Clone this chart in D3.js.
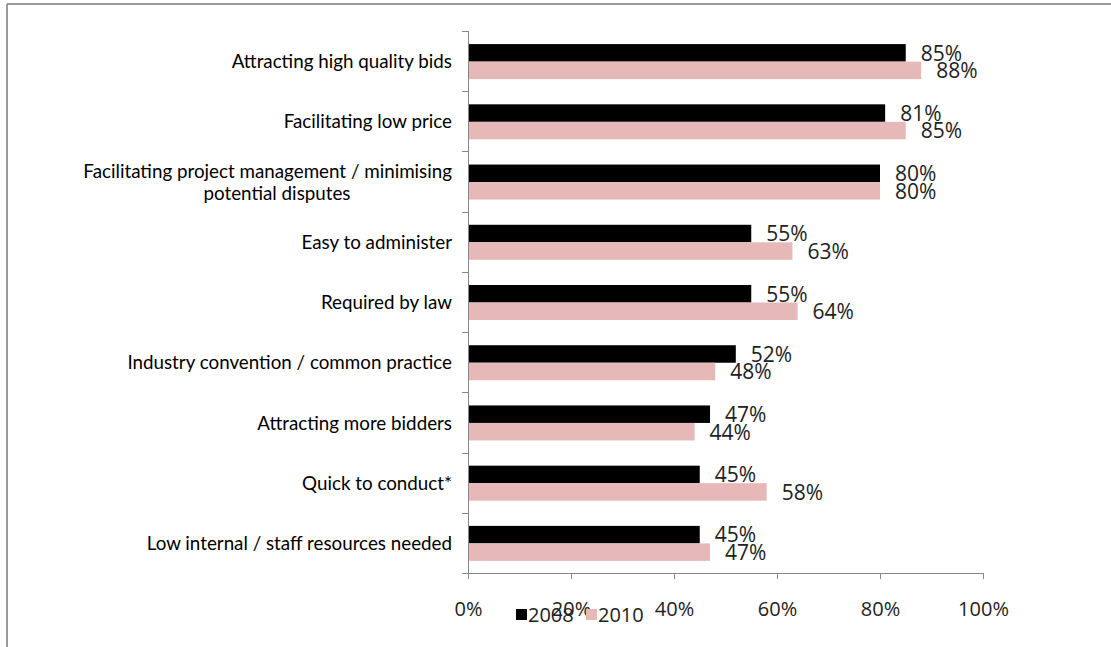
<!DOCTYPE html>
<html>
<head>
<meta charset="utf-8">
<script src="https://cdn.jsdelivr.net/npm/d3@7"></script>
<style>
  body { margin: 0; background: #fff; }
  svg { display: block; }
</style>
</head>
<body>
<div id="chart"></div>
<script>
// chart data
var categories = [
    "Attracting high quality bids",
    "Facilitating low price",
    "Facilitating project management / minimising|potential disputes",
    "Easy to administer",
    "Required by law",
    "Industry convention / common practice",
    "Attracting more bidders",
    "Quick to conduct*",
    "Low internal / staff resources needed"
]
var values2008 = [85, 81, 80, 55, 55, 52, 47, 45, 45]
var values2010 = [88, 85, 80, 63, 64, 48, 44, 58, 47]
var seriesNames = ["2008", "2010"]
var xTicks = [0, 20, 40, 60, 80, 100]

var width = 1111, height = 647
var colors = ["#000000", "#e6b9b8"]

var svg = d3.select('#chart')
            .append('svg')
            .attr('width', width)
            .attr('height', height)

// frame (only top and left edges show)
svg.append('line')
   .attr('x1', 7).attr('y1', 4).attr('x2', width).attr('y2', 4)
   .attr('stroke', '#9a9a9a').attr('stroke-width', 2)
svg.append('line')
   .attr('x1', 7).attr('y1', 4).attr('x2', 7).attr('y2', height)
   .attr('stroke', '#9a9a9a').attr('stroke-width', 2)

var plot = { left: 468, right: 983, top: 31, bottom: 573 }

var xScale = d3.scaleLinear()
               .domain([0, 100])
               .range([plot.left, plot.right])

var yScale = d3.scaleBand()
               .domain(d3.range(categories.length))
               .range([plot.top, plot.bottom])

var barH = 17.5
var bandCenter = i => yScale(i) + yScale.bandwidth() / 2 + 0.5

// bars
var series = [values2008, values2010]
series.forEach((vals, s) => {
    svg.append('g')
       .selectAll('rect')
       .data(vals)
       .enter()
       .append('rect')
       .attr('x', xScale(0))
       .attr('y', (d, i) => bandCenter(i) - barH + s * barH)
       .attr('width', d => xScale(d) - xScale(0))
       .attr('height', barH)
       .attr('fill', colors[s])

    // value labels
    svg.append('g')
       .selectAll('text')
       .data(vals)
       .enter()
       .append('text')
       .attr('x', d => xScale(d) + 15)
       .attr('y', (d, i) => bandCenter(i) - barH / 2 + s * barH + 0.5)
       .attr('dy', '0.35em')
       .attr('font-family', '"Open Sans", sans-serif')
       .attr('font-size', 21)
       .attr('fill', '#222')
       .text(d => d + '%')
})

// x axis
var bottomAxis = d3.axisBottom(xScale)
                   .tickValues(xTicks)
                   .tickSize(6)
                   .tickFormat(d => d + '%')
var gx = svg.append('g')
            .attr('transform', `translate(0, ${plot.bottom})`)
            .call(bottomAxis)
gx.select('.domain').attr('stroke', '#888').attr('d', `M${plot.left - 6},0.5H${plot.right}`)
gx.selectAll('.tick line').attr('stroke', '#888')
gx.selectAll('.tick text')
  .attr('y', 29)
  .attr('font-family', '"Open Sans", sans-serif')
  .attr('font-size', 20)
  .attr('fill', '#222')

// y axis: line with ticks at band boundaries
var gy = svg.append('g')
gy.append('line')
  .attr('x1', plot.left + 0.5).attr('x2', plot.left + 0.5)
  .attr('y1', plot.top).attr('y2', plot.bottom)
  .attr('stroke', '#888')
gy.selectAll('.ytick')
  .data(d3.range(categories.length + 1))
  .enter()
  .append('line')
  .attr('x1', plot.left - 6).attr('x2', plot.left)
  .attr('y1', i => Math.round(plot.top + i * yScale.step()) + 0.5)
  .attr('y2', i => Math.round(plot.top + i * yScale.step()) + 0.5)
  .attr('stroke', '#888')

// category labels
categories.forEach((c, i) => {
    var lines = c.split('|')
    var t = svg.append('text')
               .attr('text-anchor', 'end')
               .attr('font-family', 'Lato, sans-serif')
               .attr('font-size', 18.8)
               .attr('fill', '#000')
    var y0 = bandCenter(i) - (lines.length - 1) * 11
    lines.forEach((ln, k) => {
        t.append('tspan')
         .attr('x', 452)
         .attr('y', y0 + k * 22)
         .attr('dy', '0.35em')
         .text(ln)
    })
    if (lines.length > 1) {
        // second line sits centred under the first
        t.selectAll('tspan').filter((d, k) => k == 1)
         .attr('text-anchor', 'middle')
         .attr('x', 277)
    }
})

// legend
var legend = svg.append('g')
                .attr('transform', 'translate(516, 615)')
var legendX = [0, 70]
seriesNames.forEach((name, s) => {
    legend.append('rect')
          .attr('x', legendX[s]).attr('y', -6)
          .attr('width', 11).attr('height', 11)
          .attr('fill', colors[s])
    legend.append('text')
          .attr('x', legendX[s] + 12)
          .attr('y', 0)
          .attr('dy', '0.35em')
          .attr('font-family', '"Open Sans", sans-serif')
          .attr('font-size', 20)
          .attr('fill', '#222')
          .text(name)
})
</script>
</body>
</html>
